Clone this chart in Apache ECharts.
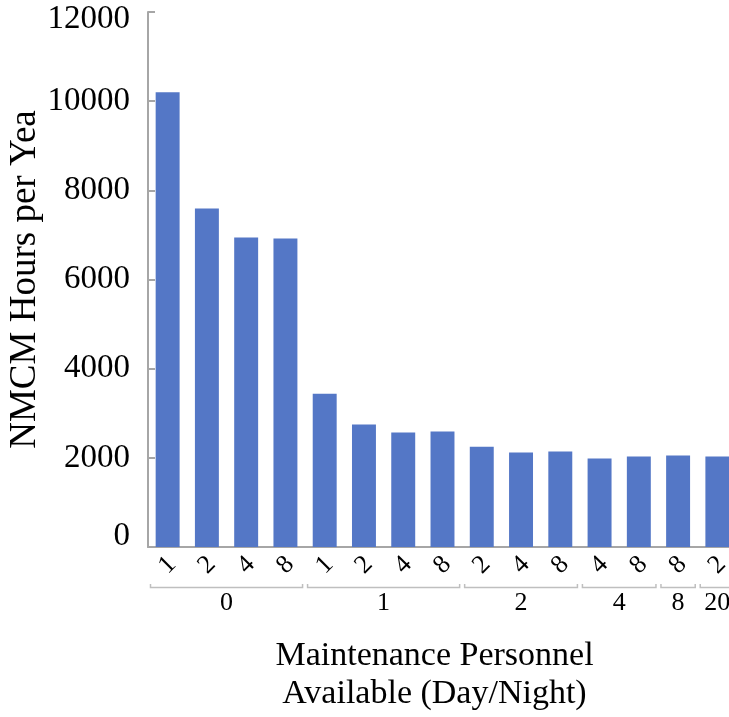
<!DOCTYPE html>
<html>
<head>
<meta charset="utf-8">
<script src="https://cdn.jsdelivr.net/npm/echarts@6/dist/echarts.min.js"></script>
<style>
html,body{margin:0;padding:0;background:#fff;}
#chart{width:729px;height:717px;}
</style>
</head>
<body>
<div id="chart"></div>
<script>
// Data
const innerLabels = ['1','2','4','8','1','2','4','8','2','4','8','4','8','8','2'];
const groupLabels = ['0','1','2','4','8','20'];
const groupSizes  = [4,4,3,2,1,1];
const values = [10200,7590,6940,6920,3440,2750,2570,2590,2250,2120,2140,1985,2030,2050,2030];
const yTicks = [0,2000,4000,6000,8000,10000,12000];

const FONT = '"Liberation Serif","Times New Roman",serif';
const AXIS_COLOR = '#a6a6a6';

const catKeys = innerLabels.map((l, i) => i + ':' + l);
const yMin = yTicks[0], yMax = yTicks[yTicks.length - 1];
const tickFont = {fontFamily: FONT, fontSize: 33, color: '#000'};

const chart = echarts.init(document.getElementById('chart'), null, {renderer: 'canvas'});
const option = {
  animation: false,
  backgroundColor: '#fff',
  grid: {left: 148, right: -8, top: 12, bottom: 170, containLabel: false, outerBoundsMode: 'none'},
  xAxis: {
    type: 'category',
    data: catKeys,
    axisLine: {show: true, lineStyle: {color: AXIS_COLOR, width: 2}},
    axisTick: {show: false},
    axisLabel: {
      interval: 0, rotate: 45, align: 'center', verticalAlign: 'middle', margin: 18,
      fontFamily: FONT, fontSize: 26, color: '#000',
      formatter: v => v.split(':')[1]
    },
    name: 'Maintenance Personnel\nAvailable (Day/Night)',
    nameLocation: 'middle', nameGap: 90,
    nameTextStyle: {fontFamily: FONT, fontSize: 34, color: '#000', lineHeight: 38, padding: [0, 16, 0, 0]}
  },
  yAxis: {
    type: 'value', min: yMin, max: yMax, interval: 2000,
    axisLine: {show: true, lineStyle: {color: AXIS_COLOR, width: 2}},
    axisTick: {show: true, inside: true, length: 7, lineStyle: {color: AXIS_COLOR, width: 2}},
    splitLine: {show: false},
    axisLabel: {
      ...tickFont, margin: 18,
      formatter: v => v === yMin ? '{lo|' + v + '}' : (v === yMax ? '{hi|' + v + '}' : String(v)),
      rich: {
        lo: {...tickFont, padding: [0, 0, 22, 0]},
        hi: {...tickFont, padding: [15, 0, 0, 0]}
      }
    },
    name: 'NMCM Hours per Yea',
    nameLocation: 'middle', nameGap: 104, nameMoveOverlap: false,
    nameTextStyle: {fontFamily: FONT, fontSize: 37, color: '#000'}
  },
  series: [{
    type: 'bar',
    data: values,
    barWidth: '61%',
    itemStyle: {color: '#5477C6'}
  }]
};
chart.setOption(option);

// Group brackets and labels under the axis, positioned through the axis scale
function drawGroups() {
  const graphics = [];
  const yBase = chart.convertToPixel({yAxisIndex: 0}, 0);
  const c0 = chart.convertToPixel({xAxisIndex: 0}, catKeys[0]);
  const c1 = chart.convertToPixel({xAxisIndex: 0}, catKeys[1]);
  const bw = c1 - c0;
  const bracketY = yBase + 40.5;
  const labelY = yBase + 56;
  let start = 0;
  groupSizes.forEach((n, g) => {
    const xs = chart.convertToPixel({xAxisIndex: 0}, catKeys[start]) - bw / 2 + 2.5;
    const xe = chart.convertToPixel({xAxisIndex: 0}, catKeys[start + n - 1]) + bw / 2 - 2.5;
    graphics.push({
      type: 'polyline', silent: true,
      shape: {points: [[xs, bracketY - 3.5], [xs, bracketY], [xe, bracketY], [xe, bracketY - 3.5]]},
      style: {stroke: '#bfbfbf', lineWidth: 1.5, fill: null}
    });
    graphics.push({
      type: 'text', silent: true,
      x: (xs + xe) / 2, y: labelY,
      style: {text: groupLabels[g], fontFamily: FONT, fontSize: 26, fill: '#000', align: 'center', verticalAlign: 'middle'}
    });
    start += n;
  });
  chart.setOption({graphic: graphics});
}
drawGroups();
</script>
</body>
</html>
